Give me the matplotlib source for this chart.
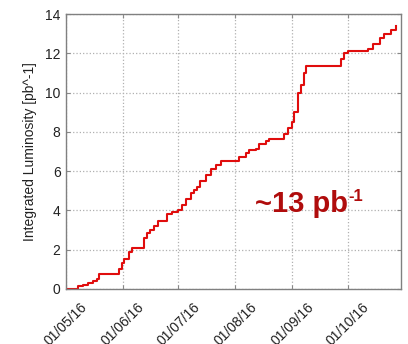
import numpy as np
import pandas as pd
import matplotlib
matplotlib.use("Agg")
import matplotlib.pyplot as plt
import matplotlib.dates as mdates

plt.rcParams['font.family'] = ['Liberation Sans', 'DejaVu Sans']

# integrated luminosity (days after 01/05/16, pb^-1)
days = [0, 6.4, 6.7, 9, 12, 14.5, 16.7, 18, 26.7, 28.5, 30.4, 31.6, 34, 35.8,
        41.6, 42.2, 44, 45.8, 47.6, 49.8, 54.4, 54.9, 57.6, 61, 63, 65, 67.6,
        69.5, 71.3, 73, 75.8, 78.5, 81.3, 84, 91.3, 94, 97.6, 99.5, 103, 105,
        108.5, 110.4, 115.8, 118.5, 120.4, 123, 124, 125.8, 127.6, 129, 130.4,
        147.6, 149.5, 151, 153, 161, 164, 166.7, 170.4, 173, 176.7, 179.5]
lumi = [0, 0, 0.15, 0.22, 0.32, 0.42, 0.5, 0.75, 0.75, 1.0, 1.3, 1.55, 1.9, 2.1,
        2.1, 2.6, 2.85, 3.0, 3.2, 3.45, 3.45, 3.8, 3.9, 4.0, 4.3, 4.6, 4.9,
        5.05, 5.2, 5.5, 5.8, 6.1, 6.3, 6.5, 6.5, 6.7, 6.9, 7.1, 7.15, 7.4,
        7.55, 7.65, 7.65, 7.9, 8.2, 8.5, 9.0, 10.0, 10.4, 11.0, 11.35,
        11.35, 11.7, 12.0, 12.1, 12.1, 12.2, 12.5, 12.8, 13.0, 13.2, 13.4]
tick_dates = ["2016-05-01", "2016-06-01", "2016-07-01", "2016-08-01",
              "2016-09-01", "2016-10-01"]
yticks = [0, 2, 4, 6, 8, 10, 12, 14]

start = pd.Timestamp("2016-05-01")
dates = [start + pd.Timedelta(days=d) for d in days]

fig = plt.figure(figsize=(4.08, 3.44), dpi=100)
ax = fig.add_axes([0.162, 0.160, 0.821, 0.799])

ax.plot(dates, lumi, color="#e00d0d", lw=1.5, drawstyle="steps-post")

ax.set_xlim(start, pd.Timestamp("2016-10-30"))
ax.set_ylim(0, 14)
ax.set_yticks(yticks)
ax.set_xticks([pd.Timestamp(t) for t in tick_dates])
ax.xaxis.set_major_formatter(mdates.DateFormatter("%d/%m/%y"))
plt.setp(ax.get_xticklabels(), rotation=45, ha="center")

ax.grid(True, ls=":", color="#b0b0b0", lw=0.9)
ax.tick_params(direction="in", length=3, labelsize=10, color="#888888",
               top=True, right=True, labelcolor="#222222", pad=4)
ax.tick_params(axis="x", pad=8)
for s in ax.spines.values():
    s.set_color("#808080")
    s.set_linewidth(1.0)

ax.set_ylabel("Integrated Luminosity [pb^-1]", fontsize=10, color="#222222",
              labelpad=6)

# big annotation with a small superscript right after it
t = ax.text(0.564, 0.28, "~13 pb", transform=ax.transAxes, va="baseline",
            fontsize=21, fontweight="bold", color="#b00c0c")
ax.annotate("-1", xy=(1, 1), xycoords=t, xytext=(0.5, 1), textcoords="offset points",
            ha="left", va="top", fontsize=12, fontweight="bold", color="#b00c0c")

plt.savefig("out.png", dpi=100)
